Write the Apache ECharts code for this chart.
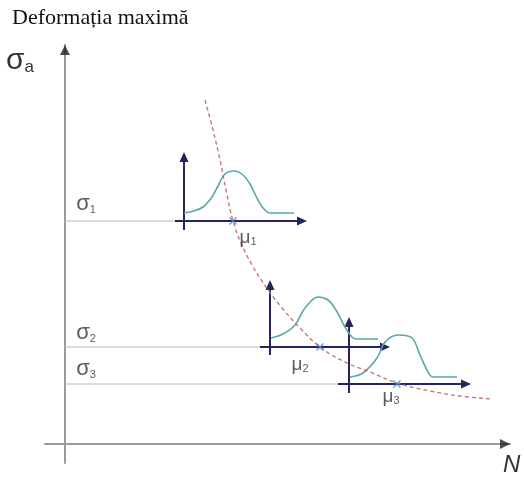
<!DOCTYPE html>
<html><head><meta charset="utf-8">
<script src="https://cdn.jsdelivr.net/npm/echarts@6/dist/echarts.min.js"></script>
<style>html,body{margin:0;padding:0;background:#fff}#c{width:524px;height:479px}</style>
</head><body><div id="c"></div><script>
// stress levels (σ1..σ3) and mean lives (μ1..μ3), in diagram units
const sigmaLevels = [223, 97, 60];
const muValues = [168, 255, 332];
const subscripts = ['1', '2', '3'];
// S-N curve (red dashed)
const curveN = [140,148,155,161,168,176,187,201,217,235,255,280,305,332,365,395,428];
const curveS = [344,314,284,254,223,201,179,157,136,116,97,82,72,61,53,48,45];
// distributions
const bell1N = [119,129,138,147,153,160,169,177,185,193,199,205,229];
const bell1S = [231,233,237,247,258,270,273,270,260,244,235,231,231];
const bell2N = [206,218,230,240,253,263,271,280,287,292,313];
const bell2S = [106,110,119,136,147,144,134,117,107,105,105];
const bell3N = [285,298,312,320,333,347,355,363,368,392];
const bell3S = [67,71,86,102,109,106,89,72,67,67];
// small local axes
const locXStart = [110,195,273];
const locXEnd = [242,325,406];
const locYPos = [119,205,284];
const locYStart = [214,89,51];
const locYEnd = [292,164,127];
// main axes extents
const mainXRange = [-20, 445];
const mainYRange = [-19, 399];

const NAVY = '#25245f', TEAL = '#5aa8a8', GRAY = '#b8b8b8', RED = '#c4706a', XBLUE = '#4f86c6';
const ARROW_R = 'path://M0,0L10,5L0,10Z';
const ARROW_U = 'path://M5,0L10,10L0,10Z';
const zip = (a, b) => a.map((v, i) => [v, b[i]]);
const series = [];

// gray level lines
sigmaLevels.forEach((s, i) => {
  series.push({type:'line', data:[[0, s],[locXStart[i], s]], symbol:'none', silent:true,
    lineStyle:{color:GRAY, width:1}, z:1});
});
// local axes
sigmaLevels.forEach((s, i) => {
  series.push({type:'line', data:[[locXStart[i], s], {value:[locXEnd[i]-5, s], symbol:ARROW_R, symbolSize:[10,9]}],
    symbol:'none', showSymbol:true, silent:true, lineStyle:{color:NAVY, width:2}, itemStyle:{color:NAVY}, z:3});
  series.push({type:'line', data:[[locYPos[i], locYStart[i]], {value:[locYPos[i], locYEnd[i]-5], symbol:ARROW_U, symbolSize:[9,10]}],
    symbol:'none', showSymbol:true, silent:true, lineStyle:{color:NAVY, width:2}, itemStyle:{color:NAVY}, z:3});
});
// bells
[[bell1N,bell1S],[bell2N,bell2S],[bell3N,bell3S]].forEach(b => {
  series.push({type:'line', data:zip(b[0], b[1]), smooth:0.35, symbol:'none', silent:true,
    lineStyle:{color:TEAL, width:1.6}, z:4});
});
// S-N curve
series.push({type:'line', data:zip(curveN, curveS), smooth:0.4, symbol:'none', silent:true,
  lineStyle:{color:RED, width:1.3, type:[4,3]}, z:5});
// crosses with μ labels
const muOffsets = [[15,16],[-20,17],[-6,12]];
series.push({type:'scatter', silent:true, z:6,
  data: muValues.map((m, i) => ({value:[m, sigmaLevels[i]],
    label:{show:true, position:'inside', offset:muOffsets[i], formatter:'{g|μ}{s|' + subscripts[i] + '}'}})),
  symbol:'path://M0,0L10,10M10,0L0,10', symbolSize:7,
  itemStyle:{color:'transparent', borderColor:XBLUE, borderWidth:1.5},
  label:{color:'#333', rich:{g:{fontSize:19, fontFamily:'Liberation Sans', color:'#333', verticalAlign:'bottom', lineHeight:20},
    s:{fontSize:11, fontFamily:'Liberation Sans', color:'#333', verticalAlign:'bottom', lineHeight:16}}}
});
// σ labels
const sigOffsets = [[21,-16],[21,-13],[21,-14]];
series.push({type:'scatter', silent:true, z:6,
  data: sigmaLevels.map((s, i) => ({value:[0, s],
    label:{show:true, position:'inside', offset:sigOffsets[i], formatter:'{g|σ}{s|' + subscripts[i] + '}'}})),
  symbolSize:1, itemStyle:{color:'transparent'},
  label:{rich:{g:{fontSize:22, fontFamily:'Liberation Sans', color:'#333', verticalAlign:'bottom', lineHeight:20},
    s:{fontSize:11, fontFamily:'Liberation Sans', color:'#333', verticalAlign:'bottom', lineHeight:16}}}
});
// main arrowheads
series.push({type:'scatter', silent:true, z:6, data:[{value:[mainXRange[1]-5, 0], symbol:ARROW_R, symbolSize:[10,10]},
  {value:[0, mainYRange[1]-5], symbol:ARROW_U, symbolSize:[10,10]}], itemStyle:{color:'#222'}});

const chart = echarts.init(document.getElementById('c'), null, {renderer:'canvas'});
chart.setOption({
  animation:false,
  backgroundColor:'#fff',
  title:{text:'Deformația maximă', left:7, top:2,
    textStyle:{fontFamily:'Liberation Serif', fontSize:22, fontWeight:'normal', color:'#111'}},
  grid:{left:45, right:14, top:45, bottom:16},
  xAxis:{type:'value', min:mainXRange[0], max:mainXRange[1], splitLine:{show:false}, axisTick:{show:false}, axisLabel:{show:false},
    axisLine:{show:true, onZero:true, lineStyle:{color:'#9a9a9a', width:2}}},
  yAxis:{type:'value', min:mainYRange[0], max:mainYRange[1], splitLine:{show:false}, axisTick:{show:false}, axisLabel:{show:false},
    axisLine:{show:true, onZero:true, lineStyle:{color:'#9a9a9a', width:2}}},
  graphic:[
    {type:'text', left:6, top:46, style:{text:'{g|σ}{s|a}', rich:{
      g:{fontSize:30, fontFamily:'Liberation Sans', fill:'#333', verticalAlign:'bottom', lineHeight:30},
      s:{fontSize:17, fontFamily:'Liberation Sans', fill:'#333', verticalAlign:'bottom', lineHeight:22}}}},
    {type:'text', left:503, top:453, style:{text:'N', font:'italic 24px "Liberation Sans"', fill:'#333'}}
  ],
  series:series
});
</script></body></html>
